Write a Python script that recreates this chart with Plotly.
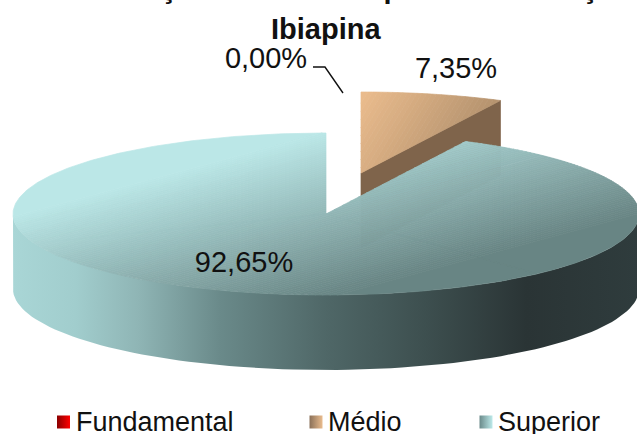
import math
import plotly.graph_objects as go

# ---- data ----
categories = ["Fundamental", "Médio", "Superior"]
values = [0.00, 7.35, 92.65]
legend_x = [63.5, 316, 486]
legend_text_x = [74, 326, 496]
label_pos = [(266, 61), (456, 71), (244, 265)]
swatch_light = ["#ff0000", "#eabc8e", "#bdeaea"]
swatch_dark = ["#8a0000", "#8a7058", "#6a8a8a"]

# ---- pie geometry (pixels on the 637x434 page) ----
CX, CY, RX, RY, DEPTH = 326, 214, 313, 81, 75
EXPLODE = {"Médio": (35, -41)}


def lerp_hex(a, b, t):
    t = max(0, min(1, t))
    pa = [int(a[i:i + 2], 16) for i in (1, 3, 5)]
    pb = [int(b[i:i + 2], 16) for i in (1, 3, 5)]
    return "#%02x%02x%02x" % tuple(round(p + (q - p) * t) for p, q in zip(pa, pb))


def clip(poly, nx, ny, c, keep_above):
    """Sutherland-Hodgman clip against the half plane nx*x + ny*y >= c (or <=)."""
    out = []
    s = 1 if keep_above else -1
    f = lambda p: s * (nx * p[0] + ny * p[1] - c)
    for i, p in enumerate(poly):
        q = poly[(i + 1) % len(poly)]
        fp, fq = f(p), f(q)
        if fp >= 0:
            out.append(p)
        if fp * fq < 0:
            k = fp / (fp - fq)
            out.append((p[0] + (q[0] - p[0]) * k, p[1] + (q[1] - p[1]) * k))
    return out


def sector(a0, a1, dx=0, dy=0):
    n = max(2, int((a1 - a0) * 1.5))
    pts = [(CX + dx, CY + dy)]
    for i in range(n + 1):
        a = math.radians(a0 + (a1 - a0) * i / n)
        pts.append((CX + dx + RX * math.sin(a), CY + dy - RY * math.cos(a)))
    return pts


def add_poly(fig, xs_ys, color):
    xs, ys = [], []
    for poly in xs_ys:
        xs += [p[0] for p in poly] + [poly[0][0], None]
        ys += [p[1] for p in poly] + [poly[0][1], None]
    fig.add_trace(go.Scatter(x=xs, y=ys, mode="lines", fill="toself", fillcolor=color,
                             line=dict(color=color, width=0.7), hoverinfo="skip",
                             showlegend=False))


def add_banded(fig, polys, nx, ny, t0, t1, c0, c1, bands):
    """polys must be convex; each band is one colour across all of them."""
    for i in range(bands):
        lo = t0 + (t1 - t0) * i / bands
        hi = t0 + (t1 - t0) * (i + 1) / bands
        pieces = []
        for piece in polys:
            if i > 0:
                piece = clip(piece, nx, ny, lo, True)
            if i < bands - 1 and piece:
                piece = clip(piece, nx, ny, hi, False)
            if len(piece) >= 3:
                pieces.append(piece)
        if pieces:
            add_poly(fig, pieces, lerp_hex(c0, c1, (i + .5) / bands))


fig = go.Figure()

# angular spans from the values (clockwise from 12 o'clock)
total = sum(values)
spans, start = {}, 0.0
for name, v in zip(categories, values):
    spans[name] = (start, start + v / total * 360)
    start = spans[name][1]

# exploded "Médio" slice: cut face first, then top
a0, a1 = spans["Médio"]
dx, dy = EXPLODE["Médio"]
outer = (CX + dx + RX * math.sin(math.radians(a1)), CY + dy - RY * math.cos(math.radians(a1)))
apex = (CX + dx, CY + dy)
add_poly(fig, [[apex, outer, (outer[0], outer[1] + DEPTH), (apex[0], apex[1] + DEPTH)]], "#7f644b")
add_banded(fig, [sector(a0, a1, dx, dy)], 1, 0.62, 420, 590, "#ebbc8d", "#a98a68", 34)

# "Superior" wall (outer rim, front half only)
rim = [(CX + RX * math.sin(math.radians(a)), CY - RY * math.cos(math.radians(a))) for a in range(90, 271, 2)]
wall = rim + [(x, y + DEPTH) for x, y in reversed(rim)]
wall_x = [p[0] for p in wall] + [wall[0][0]]
wall_y = [p[1] for p in wall] + [wall[0][1]]
fig.add_trace(go.Scatter(
    x=wall_x, y=wall_y, mode="lines", line=dict(width=0, color="#2c3637"), fill="toself",
    fillgradient=dict(type="horizontal", colorscale=[
        [0.00, "#a9d6d6"], [0.10, "#a1cdcd"], [0.20, "#8fb5b5"], [0.33, "#6a8a8a"],
        [0.50, "#4f6767"], [0.66, "#3d4f4f"], [0.82, "#2a3435"], [1.00, "#2f3c3d"]]),
    hoverinfo="skip", showlegend=False))

# "Superior" top surface, split into convex parts so the bands clip cleanly
a0, a1 = spans["Superior"]
parts = 3
split = [sector(a0 + (a1 - a0) * i / parts, a0 + (a1 - a0) * (i + 1) / parts) for i in range(parts)]
add_banded(fig, split, 0.27, 1, 218, 388, "#bbe8e8", "#688483", 85)

# percentage labels
fig.add_trace(go.Scatter(
    x=[p[0] for p in label_pos], y=[p[1] for p in label_pos], mode="text",
    text=[f"{v:.2f}%".replace(".", ",") for v in values],
    textfont=dict(family="Liberation Sans", size=29, color="#111111"),
    textposition="middle center", hoverinfo="skip", showlegend=False))

# leader line of the 0,00% label
fig.add_trace(go.Scatter(x=[313, 325, 343], y=[67, 67, 93], mode="lines",
                         line=dict(color="#111111", width=1.4), hoverinfo="skip", showlegend=False))

# legend (plotly's horizontal marker gradient runs from gradient.color on the left to marker.color on the right)
for name, lx, tx, lo, hi in zip(categories, legend_x, legend_text_x, swatch_light, swatch_dark):
    fig.add_trace(go.Scatter(
        x=[lx], y=[422], mode="markers", hoverinfo="skip", showlegend=False,
        marker=dict(symbol="square", size=13, color=hi, line=dict(width=0),
                    gradient=dict(type="horizontal", color=lo))))
    fig.add_annotation(x=tx, y=422, xref="x", yref="y", text=name, showarrow=False,
                       xanchor="left", yanchor="middle",
                       font=dict(family="Liberation Sans", size=27, color="#111111"))

# title block (first line is cut by the top of the picture)
fig.add_annotation(x=41, y=6, xref="x", yref="y", text="<b>Distribuição dos Alunos por Escolarização</b>",
                   showarrow=False, xanchor="left", yanchor="bottom",
                   font=dict(family="Liberation Sans", size=29, color="#111111"))
fig.add_annotation(x=326, y=29, xref="x", yref="y", text="<b>Ibiapina</b>",
                   showarrow=False, xanchor="center", yanchor="middle",
                   font=dict(family="Liberation Sans", size=29, color="#111111"))

fig.update_layout(
    width=637, height=434, margin=dict(l=0, r=0, t=0, b=0),
    paper_bgcolor="white", plot_bgcolor="white", showlegend=False,
    xaxis=dict(range=[0, 637], visible=False, fixedrange=True),
    yaxis=dict(range=[434, 0], visible=False, fixedrange=True),
)
fig.write_html("out.html", config={"displayModeBar": False},
               post_script="document.body.style.margin='0';document.documentElement.style.overflow='hidden';")
